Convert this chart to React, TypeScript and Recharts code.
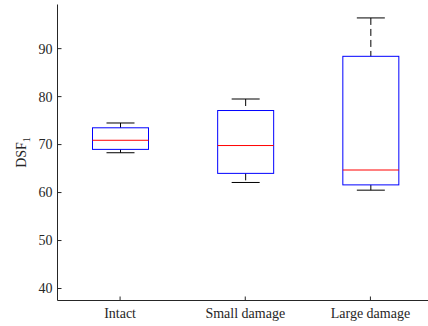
import { ComposedChart, Bar, XAxis, YAxis, Label } from "recharts";

const categories = ["Intact", "Small damage", "Large damage"];
const whiskerLow = [68.3, 62.1, 60.5];
const quartile1 = [69.0, 64.0, 61.6];
const medians = [70.9, 69.8, 64.7];
const quartile3 = [73.5, 77.1, 88.4];
const whiskerHigh = [74.5, 79.5, 96.4];
const yTicks = [40, 50, 60, 70, 80, 90];

const data = categories.map((name, i) => ({
  name,
  range: [whiskerLow[i], whiskerHigh[i]],
  lo: whiskerLow[i],
  q1: quartile1[i],
  med: medians[i],
  q3: quartile3[i],
  hi: whiskerHigh[i],
}));

const AXIS = "#262626";
const FONT = "'Liberation Serif', 'DejaVu Serif', serif";

// box drawn inside the bar's range rect, using the pixels the bar scale gave us
const BoxShape = (props: any) => {
  const { x, y, width, height, payload } = props;
  const top = Math.min(y, y + height);
  const h = Math.abs(height);
  const { lo, hi, q1, q3, med } = payload;
  const toY = (v: number) => top + ((hi - v) / (hi - lo)) * h;
  const cx = x + width / 2;
  const cap = width / 4;
  return (
    <g>
      <line x1={cx} x2={cx} y1={toY(hi)} y2={toY(q3)} stroke="#000" strokeDasharray="7 4" />
      <line x1={cx} x2={cx} y1={toY(q1)} y2={toY(lo)} stroke="#000" strokeDasharray="7 4" />
      <line x1={cx - cap} x2={cx + cap} y1={toY(hi)} y2={toY(hi)} stroke="#000" />
      <line x1={cx - cap} x2={cx + cap} y1={toY(lo)} y2={toY(lo)} stroke="#000" />
      <rect x={x} y={toY(q3)} width={width} height={toY(q1) - toY(q3)} fill="none" stroke="#0000ff" />
      <line x1={x} x2={x + width} y1={toY(med)} y2={toY(med)} stroke="#ff0000" />
    </g>
  );
};

const YTick = (props: any) => {
  const { x, y, payload } = props;
  return (
    <g>
      <line x1={x + 5} x2={x + 9} y1={y} y2={y} stroke={AXIS} />
      <text x={x} y={y} dy="0.35em" textAnchor="end" fill={AXIS} fontSize={14} fontFamily={FONT}>
        {payload.value}
      </text>
    </g>
  );
};

const XTick = (props: any) => {
  const { x, y, payload } = props;
  return (
    <g>
      <line x1={x} x2={x} y1={y - 8} y2={y - 12} stroke={AXIS} />
      <text x={x} y={y} dy="0.71em" textAnchor="middle" fill={AXIS} fontSize={14} fontFamily={FONT}>
        {payload.value}
      </text>
    </g>
  );
};

const TopTick = (props: any) => {
  const { x, y } = props;
  return <line x1={x} x2={x} y1={y} y2={y + 4} stroke={AXIS} />;
};

const YLabel = (props: any) => {
  const vb = props.viewBox;
  const cx = vb.x + 26;
  const cy = vb.y + vb.height / 2;
  return (
    <text
      x={cx}
      y={cy}
      transform={`rotate(-90 ${cx} ${cy})`}
      textAnchor="middle"
      fill={AXIS}
      fontSize={14}
      fontFamily={FONT}
    >
      DSF
      <tspan dy={4} fontSize={10}>1</tspan>
    </text>
  );
};

export default function App() {
  return (
    <div style={{ position: "absolute", left: 0, top: 0, width: 428, height: 326, overflow: "hidden", background: "#fff" }}>
      <ComposedChart width={433} height={326} data={data} margin={{ top: 4.5, right: 0, bottom: 0, left: 0 }}>
        <XAxis
          dataKey="name"
          height={25.5}
          tickSize={0}
          tickMargin={8}
          tick={<XTick />}
          axisLine={{ stroke: AXIS }}
          interval={0}
        />
        <XAxis
          xAxisId="top"
          dataKey="name"
          orientation="top"
          height={0}
          tickSize={0}
          tickMargin={0}
          tick={<TopTick />}
          axisLine={{ stroke: AXIS }}
          interval={0}
        />
        <YAxis
          width={57.5}
          domain={[37.5, 99.2]}
          ticks={yTicks}
          tickSize={0}
          tickMargin={5}
          tick={<YTick />}
          axisLine={{ stroke: AXIS }}
          allowDataOverflow
        >
          <Label content={<YLabel />} />
        </YAxis>
        <Bar dataKey="range" barSize={56} shape={<BoxShape />} isAnimationActive={false} />
      </ComposedChart>
    </div>
  );
}
